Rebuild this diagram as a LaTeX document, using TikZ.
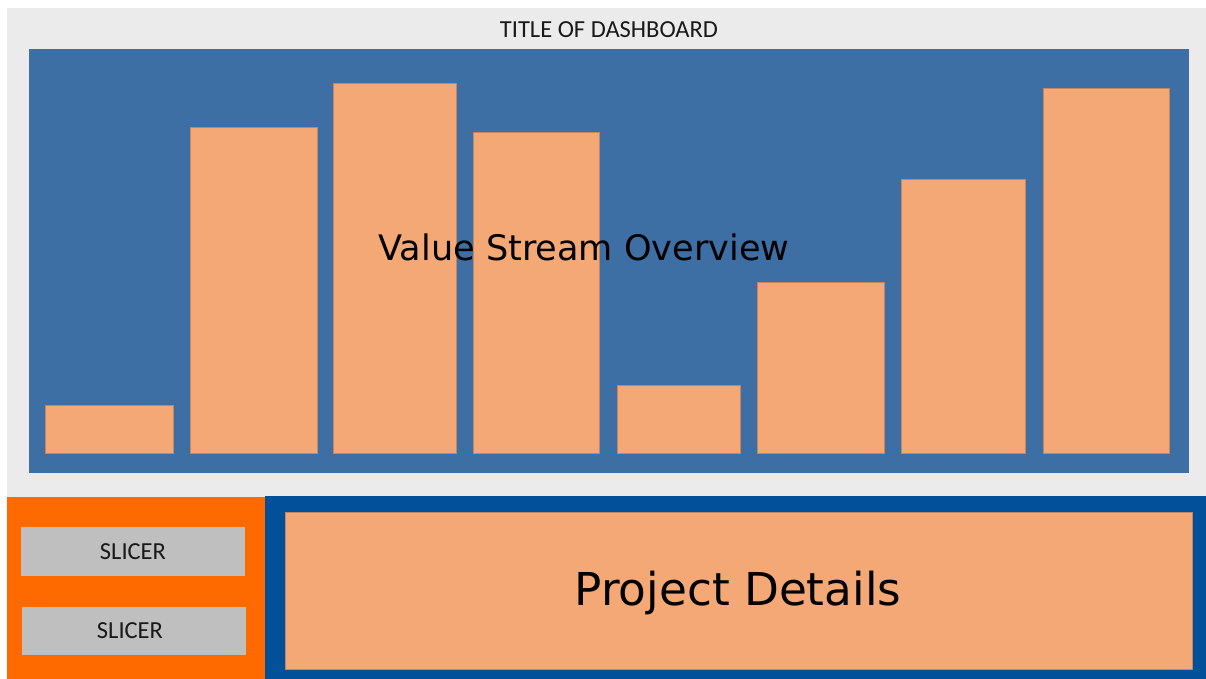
\documentclass[tikz,border=0pt]{standalone}
\usepackage{fontspec}
\newfontfamily\labelfont{Carlito}
\newfontfamily\headfont{DejaVu Sans}
\definecolor{canvas}{HTML}{EBEBEB}
\definecolor{panelblue}{HTML}{3D6EA4}
\definecolor{barorange}{HTML}{F4A876}
\definecolor{deepblue}{HTML}{02509A}
\definecolor{brightorange}{HTML}{FF6A00}
\definecolor{slicergray}{HTML}{BFBFBF}
\tikzset{
  bar/.style={fill=barorange, draw=barorange!80!black, line width=0.4pt},
  slicerbox/.style={fill=slicergray},
  smalltext/.style={font=\labelfont\fontsize{24.5}{28}\selectfont, text=black!90, inner sep=0pt, anchor=base},
  bigtext/.style={inner sep=0pt, anchor=base, text=black},
}
\begin{document}
\begin{tikzpicture}[x=1pt,y=-1pt]
  \useasboundingbox (0,0) rectangle (1206,679);
  \fill[white] (0,0) rectangle (1206,679);
  % background areas
  \fill[canvas] (7,8) rectangle (1206,497);
  \fill[brightorange] (7,497) rectangle (265,679);
  \fill[deepblue] (265,496) rectangle (1206,679);
  % chart panel and its bars
  \fill[panelblue] (29,49) rectangle (1189,473);
  \draw[bar] (45,405) rectangle (173,453);
  \draw[bar] (190,127) rectangle (317,453);
  \draw[bar] (333,83) rectangle (456,453);
  \draw[bar] (473,132) rectangle (599,453);
  \draw[bar] (617,385) rectangle (740,453);
  \draw[bar] (757,282) rectangle (884,453);
  \draw[bar] (901,179) rectangle (1025,453);
  \draw[bar] (1043,88) rectangle (1169,453);
  % slicers
  \fill[slicerbox] (21,527) rectangle (245,576);
  \fill[slicerbox] (22,607) rectangle (246,655);
  % details box
  \draw[bar] (285,512) rectangle (1192,669);
  % texts
  \node[smalltext] (title) at (609,38) {TITLE OF DASHBOARD};
  \node[bigtext, font=\headfont\fontsize{35.1}{40}\selectfont] (overview) at (584,260) {Value Stream Overview};
  \node[smalltext] (slicerA) at (133,559) {SLICER};
  \node[smalltext] (slicerB) at (130,638) {SLICER};
  \node[bigtext, font=\headfont\fontsize{45.3}{52}\selectfont] (details) at (738,605) {Project Details};
\end{tikzpicture}
\end{document}
